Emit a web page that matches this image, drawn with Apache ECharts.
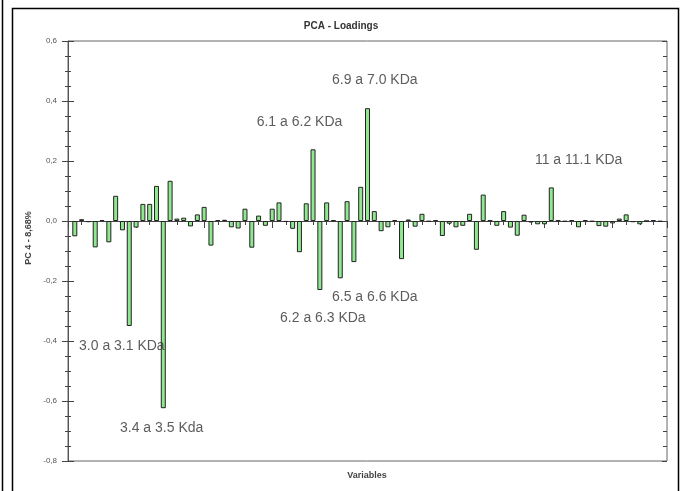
<!DOCTYPE html>
<html>
<head>
<meta charset="utf-8">
<script src="https://cdn.jsdelivr.net/npm/echarts@6/dist/echarts.min.js"></script>
<style>html,body{margin:0;padding:0;background:#fff;}#c{width:682px;height:491px;}</style>
</head>
<body>
<div id="c"></div>
<script>
// Variable index (1..87) and PC4 loadings
var variables = [];
for (var k = 1; k <= 87; k++) variables.push(k);
var loadings = [
  -0.051, 0.006, -0.004, -0.088, 0.003, -0.071, 0.084, -0.031, -0.350, -0.022,
   0.057, 0.057, 0.117, -0.624, 0.134, 0.008, 0.011, -0.018, 0.022, 0.047,
  -0.082, 0.003, 0.004, -0.021, -0.025, 0.041, -0.089, 0.018, -0.016, 0.041,
   0.062, -0.003, -0.026, -0.104, 0.059, 0.239, -0.230, 0.062, 0.003, -0.191,
   0.066, -0.137, 0.114, 0.376, 0.033, -0.034, -0.021, 0.003, -0.127, 0.005,
  -0.019, 0.024, -0.002, 0.003, -0.050, -0.009, -0.021, -0.016, 0.024, -0.096,
   0.088, 0.002, -0.016, 0.033, -0.022, -0.049, 0.021, -0.005, -0.011, -0.011,
   0.112, 0.002, -0.002, 0.003, -0.021, 0.003, -0.002, -0.017, -0.019, -0.008,
   0.008, 0.022, -0.004, -0.011, 0.000, 0.003, -0.002
];
// Annotation texts and their anchor points (data coordinates)
var annoText = ['3.0 a 3.1 KDa', '3.4 a 3.5 Kda', '6.1 a 6.2 KDa', '6.9 a 7.0 KDa', '6.5 a 6.6 KDa', '6.2 a 6.3 KDa', '11 a 11.1 KDa'];
var annoX = [1.62, 7.64, 27.72, 38.78, 38.78, 31.15, 68.6];
var annoY = [-0.416, -0.690, 0.328, 0.468, -0.254, -0.324, 0.203];
var yTicks = [-0.8, -0.6, -0.4, -0.2, 0.0, 0.2, 0.4, 0.6];

var barData = variables.map(function (v, i) { return [v, loadings[i]]; });
var annoData = annoText.map(function (t, i) { return { name: t, value: [annoX[i], annoY[i]] }; });

var chart = echarts.init(document.getElementById('c'), null, { renderer: 'canvas' });
var fontFam = 'Arial, "Liberation Sans", sans-serif';
var yCommon = { type: 'value', min: yTicks[0], max: yTicks[yTicks.length - 1], interval: 0.2, splitLine: { show: false } };
chart.setOption({
  backgroundColor: '#ffffff',
  animation: false,
  title: {
    text: 'PCA - Loadings', left: 'center', top: 16,
    textStyle: { fontFamily: fontFam, fontSize: 10, fontWeight: 'bold', color: '#333' }
  },
  grid: { left: 68, right: 15, top: 41, bottom: 30, show: true, borderColor: '#666', borderWidth: 1, backgroundColor: 'transparent' },
  xAxis: [
    { type: 'value', min: 0, max: 88, interval: 10, position: 'bottom',
      axisLine: { show: true, onZero: true, lineStyle: { color: '#444', width: 1 } },
      axisTick: { show: false }, axisLabel: { show: false }, splitLine: { show: false } },
    { type: 'value', min: 0, max: 88, interval: 10, position: 'top',
      axisLine: { show: false },
      axisTick: { show: true, inside: true, length: 7, lineStyle: { color: '#444' } },
      minorTick: { show: true, splitNumber: 5, length: 4, lineStyle: { color: '#444' } },
      axisLabel: { show: false }, splitLine: { show: false } }
  ],
  yAxis: [
    Object.assign({}, yCommon, { position: 'left',
      axisLine: { show: true, lineStyle: { color: '#555' } },
      axisTick: { show: true, inside: false, length: 6, lineStyle: { color: '#444' } },
      minorTick: { show: true, splitNumber: 4, length: 3, lineStyle: { color: '#444' } },
      axisLabel: { margin: 11, fontFamily: fontFam, fontSize: 8, color: '#555',
        formatter: function (v) { return v.toFixed(1).replace('.', ','); } } }),
    Object.assign({}, yCommon, { position: 'left',
      axisLine: { show: false },
      axisTick: { show: true, inside: true, length: 6, lineStyle: { color: '#444' } },
      minorTick: { show: true, splitNumber: 4, length: 3, lineStyle: { color: '#444' } },
      axisLabel: { show: false } }),
    Object.assign({}, yCommon, { position: 'right',
      axisLine: { show: false },
      axisTick: { show: true, inside: true, length: 5, lineStyle: { color: '#444' } },
      minorTick: { show: true, splitNumber: 4, length: 4, lineStyle: { color: '#444' } },
      axisLabel: { show: false } })
  ],
  series: [
    { type: 'bar', xAxisIndex: 0, yAxisIndex: 0, data: barData, barWidth: 5,
      itemStyle: { color: '#8fe88f', borderColor: '#222', borderWidth: 1 } },
    { type: 'scatter', xAxisIndex: 0, yAxisIndex: 0, data: annoData, symbolSize: 0,
      label: { show: true, position: 'right', distance: 0, formatter: '{b}',
        fontFamily: fontFam, fontSize: 14, color: '#333' }, silent: true }
  ],
  graphic: [
    { type: 'rect', shape: { x: 12.5, y: 8.5, width: 666, height: 490 }, style: { fill: 'none', stroke: '#000', lineWidth: 1.5 }, silent: true },
    { type: 'line', shape: { x1: 2.5, y1: 0, x2: 2.5, y2: 491 }, style: { stroke: '#000', lineWidth: 1.5 }, silent: true },
    { type: 'text', x: 29, y: 238, rotation: Math.PI / 2,
      style: { text: 'PC 4 - 8,68%', fontFamily: fontFam, fontSize: 9, fontWeight: 'bold', fill: '#444', textAlign: 'center', textVerticalAlign: 'middle' } },
    { type: 'text', x: 367, y: 476,
      style: { text: 'Variables', fontFamily: fontFam, fontSize: 9, fontWeight: 'bold', fill: '#444', textAlign: 'center', textVerticalAlign: 'middle' } }
  ]
});
</script>
</body>
</html>
